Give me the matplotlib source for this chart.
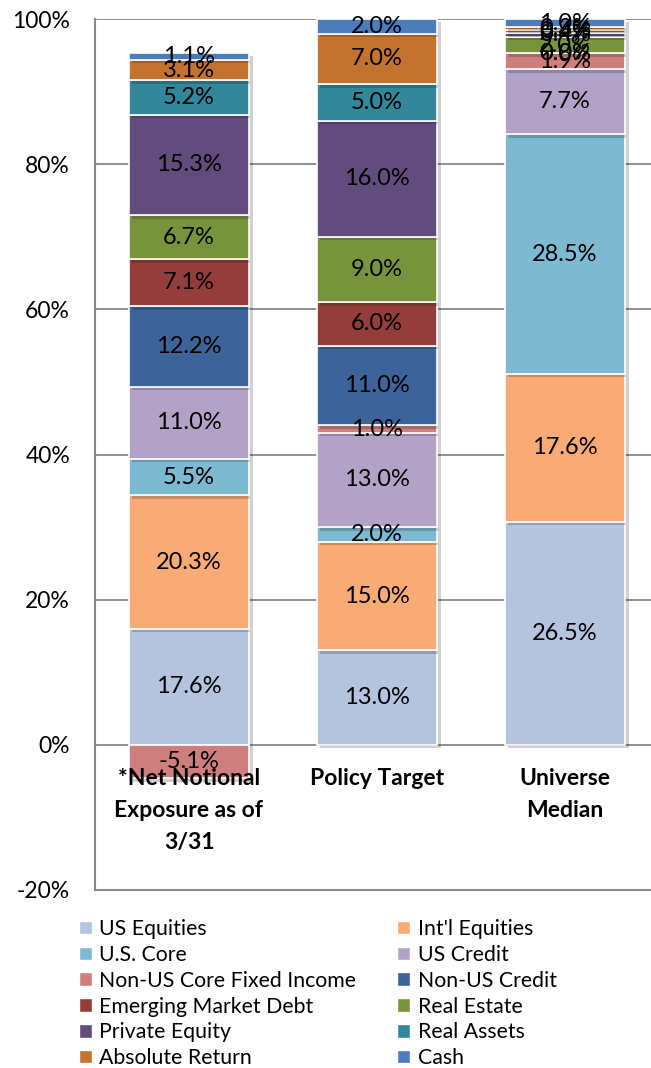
import numpy as np
import matplotlib.pyplot as plt
import matplotlib.patheffects as pe
from matplotlib.patches import Patch

plt.rcParams['font.family'] = ['Lato', 'DejaVu Sans']

# columns of the chart
columns = ["*Net Notional\nExposure as of\n3/31", "Policy Target", "Universe\nMedian"]

asset_classes = [
    "US Equities", "Int'l Equities", "U.S. Core", "US Credit",
    "Non-US Core Fixed Income", "Non-US Credit", "Emerging Market Debt",
    "Real Estate", "Private Equity", "Real Assets", "Absolute Return", "Cash",
]

# values (% as labelled) per column, bottom to top
net_notional = [17.6, 20.3, 5.5, 11.0, -5.1, 12.2, 7.1, 6.7, 15.3, 5.2, 3.1, 1.1]
policy_target = [13.0, 15.0, 2.0, 13.0, 1.0, 11.0, 6.0, 9.0, 16.0, 5.0, 7.0, 2.0]
universe_median = [26.5, 17.6, 28.5, 7.7, 1.9, 0.0, 0.0, 2.0, 0.4, 0.4, 0.3, 1.0]

colors = [
    "#B4C3DE", "#F9AA75", "#7DBAD1", "#B2A2C8", "#CF7E7E", "#3C6499",
    "#943D3B", "#77933C", "#614C7D", "#33879A", "#C4722F", "#4A7DBA",
]

values = np.array([net_notional, policy_target, universe_median])

fig = plt.figure(figsize=(6.51, 10.68), dpi=100)
ax = fig.add_axes([95 / 651, 1 - 890 / 1068, 564 / 651, 871 / 1068])

x = np.arange(len(columns))
width = 0.64
shadow = [pe.SimplePatchShadow(offset=(2.5, -2.5), shadow_rgbFace="#000000", alpha=0.18), pe.Normal()]

# Excel 100% stacked: each value scaled by the column's sum of absolute values
totals = np.abs(values).sum(axis=1)
pos_base = np.zeros(len(columns))
neg_base = np.zeros(len(columns))
for j, name in enumerate(asset_classes):
    raw = values[:, j]
    share = raw / totals * 100
    bottoms = np.where(share >= 0, pos_base, neg_base)
    bars = ax.bar(x, share, width, bottom=bottoms, color=colors[j],
                  edgecolor="white", linewidth=1.2, zorder=3)
    for b in bars:
        b.set_path_effects(shadow)
    for i in range(len(columns)):
        ax.text(x[i], bottoms[i] + share[i] / 2, f"{raw[i]:.1f}%",
                ha="center", va="center", fontsize=17, color="black", zorder=5)
    pos_base = pos_base + np.where(share >= 0, share, 0)
    neg_base = neg_base + np.where(share < 0, share, 0)

ax.set_xlim(-0.5, 2.5)
ax.set_ylim(-20, 100)
ax.set_yticks(np.arange(-20, 101, 20))
ax.yaxis.set_major_formatter(plt.FuncFormatter(lambda v, p: f"{v:.0f}%"))
ax.tick_params(axis="y", length=0, pad=18, labelsize=16.5)
ax.set_xticks([])
ax.grid(axis="y", color="#888888", linewidth=1.3, zorder=1)
ax.set_axisbelow(True)
for s in ["top", "right"]:
    ax.spines[s].set_visible(False)
for s in ["left", "bottom"]:
    ax.spines[s].set_color("#888888")
    ax.spines[s].set_linewidth(1.5)

for i, lab in enumerate(columns):
    ax.annotate(lab, xy=(x[i], 0), xytext=(0, -17), textcoords="offset points",
                ha="center", va="top", fontsize=16.5, fontweight="bold",
                linespacing=1.62, zorder=6)

handles = [Patch(facecolor=c, edgecolor="white") for c in colors]
order = list(range(0, 12, 2)) + list(range(1, 12, 2))
fig.legend([handles[k] for k in order], [asset_classes[k] for k in order],
           ncol=2, loc="upper left", bbox_to_anchor=(0.121, 1 - 919 / 1068),
           frameon=False, fontsize=15.3, handlelength=0.6, handleheight=0.6,
           handletextpad=0.35, columnspacing=1.95, labelspacing=0.275,
           borderpad=0, borderaxespad=0)

fig.savefig("out.png", dpi=100)
